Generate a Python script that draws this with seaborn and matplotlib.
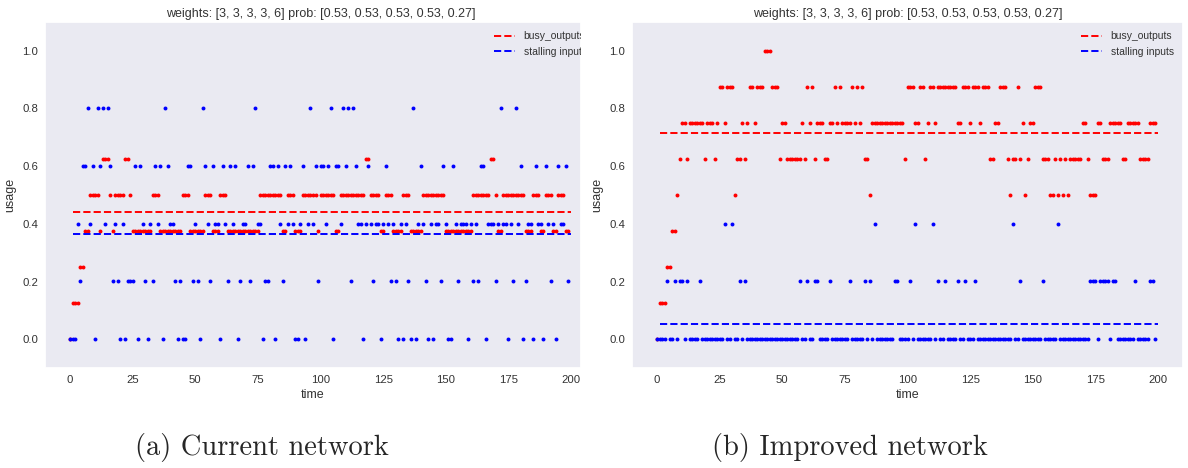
import numpy as np
import matplotlib
matplotlib.use("Agg")
import matplotlib.pyplot as plt
import seaborn as sns

# one digit per time step (0..199)
# busy outputs are stored in eighths, stalling inputs in fifths
busy_current = (
    "0111223344443555434444554"
    "3333333344433333333344433"
    "3333444333444333333333333"
    "3444444444334443334444443"
    "4444443344444444445544443"
    "3444333344433333444444444"
    "3333333333344444445543344"
    "4444444333444334443344433"
)
stall_current = (
    "0002133423043424312102011"
    "1303210213230432210100331"
    "2104321322032132301223134"
    "2201133032132320023024231"
    "3323403324341432202321220"
    "2321210202104023210202213"
    "2003212220212133022212422"
    "0214230122032203212032231"
)
busy_improved = (
    "0111223345665666666566656"
    "7767774556567767778887775"
    "6655555565767566655667676"
    "6667676755466666666666665"
    "7776677567767777777766777"
    "6777677755667775455756456"
    "6777555445454545555566544"
    "4665556666655666665555666"
)
stall_improved = (
    "0000100101101000010000000"
    "0020020010100000000000000"
    "0000000100100110000100000"
    "0010000010102000000011000"
    "0102000000201001000010010"
    "0010000000000000020010000"
    "0000100000200000000000011"
    "1011110110000000100000110"
)

title = "weights: [3, 3, 3, 3, 6] prob: [0.53, 0.53, 0.53, 0.53, 0.27]"
captions = ["(a) Current network", "(b) Improved network"]
legend_labels = ["busy_outputs", "stalling inputs"]


def decode(codes, steps):
    return np.array([int(c) for c in codes]) / steps


def draw_panel(ax, busy, stall, xmax, title_x, legend_anchor):
    t = np.arange(len(busy))
    sns.scatterplot(x=t, y=busy, color="#ff0000", s=8, linewidth=0, ax=ax)
    sns.scatterplot(x=t, y=stall, color="#0000ff", s=8, linewidth=0, ax=ax)
    tl = np.arange(1, len(busy) + 1)
    ax.plot(tl, np.full(len(tl), busy.mean()), "--", color="#ff0000",
            lw=1.4, label=legend_labels[0])
    ax.plot(tl, np.full(len(tl), stall.mean()), "--", color="#0000ff",
            lw=1.4, label=legend_labels[1])
    ax.set_xlim(-10, xmax)
    ax.set_ylim(-0.1, 1.1)
    ax.set_xticks(np.arange(0, 201, 25))
    ax.set_yticks(np.arange(0, 1.01, 0.2))
    ax.set_yticklabels([f"{v:.1f}" for v in np.arange(0, 1.01, 0.2)])
    ax.tick_params(labelsize=8.2, length=0, pad=5, colors="#333333")
    ax.set_xlabel("time", fontsize=9, labelpad=3, color="#333333")
    ax.set_ylabel("usage", fontsize=9, labelpad=4, color="#333333")
    ax.set_title(title, fontsize=9, x=title_x, pad=3.5, color="#333333")
    leg = ax.legend(loc="upper right", bbox_to_anchor=legend_anchor,
                    frameon=False, fontsize=7.5)
    for txt in leg.get_texts():
        txt.set_color("#333333")
        txt.set_clip_box(ax.bbox)
        txt.set_clip_on(True)


sns.set_theme(style="dark", context="notebook")
plt.rcParams["font.family"] = ["Liberation Sans", "DejaVu Sans"]

W, H = 1188, 468
fig = plt.figure(figsize=(W / 100, H / 100), dpi=100)

# left panel is the cropped one (its right edge is cut off)
ax1 = fig.add_axes([45 / W, 100 / H, 536 / W, 346 / H])
ax2 = fig.add_axes([632 / W, 100 / H, 551 / W, 346 / H])

draw_panel(ax1, decode(busy_current, 8), decode(stall_current, 5),
           204, 551 / 536 / 2, (551 / 536, 1))
draw_panel(ax2, decode(busy_improved, 8), decode(stall_improved, 5),
           210, 0.5, (1, 1))

fig.text(262 / W, 1 - 447 / H, captions[0], ha="center", va="center",
         fontfamily="cmr10", fontsize=20.5)
fig.text(850 / W, 1 - 447 / H, captions[1], ha="center", va="center",
         fontfamily="cmr10", fontsize=20.5)

fig.savefig("out.png", dpi=100, facecolor="white")
